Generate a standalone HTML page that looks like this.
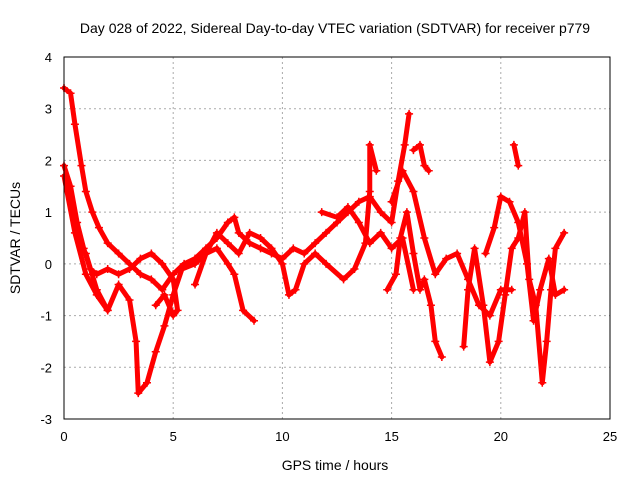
<!DOCTYPE html>
<html><head><meta charset="utf-8"><style>
body{margin:0;background:#fff}
svg{display:block;font-family:"Liberation Sans",sans-serif}
</style></head><body>
<svg id="chart" width="640" height="480">
<text x="335" y="33" text-anchor="middle" font-size="14">Day 028 of 2022, Sidereal Day-to-day VTEC variation (SDTVAR) for receiver p779</text>
<text x="335" y="470" text-anchor="middle" font-size="14">GPS time / hours</text>
<text transform="translate(20,238) rotate(-90)" text-anchor="middle" font-size="14">SDTVAR / TECUs</text>
<g id="grid"></g><g id="ticks"></g><g id="series"></g>
<rect x="64" y="57" width="546" height="362" fill="none" stroke="#000"/>
</svg>
<script>
const xTicks=[0,5,10,15,20,25];
const yTicks=[-3,-2,-1,0,1,2,3,4];
const trackA=[[0,3.4],[0.3,3.3],[0.5,2.7],[0.8,1.9],[1.0,1.4],[1.3,1.0],[1.6,0.7],[2.0,0.4],[2.5,0.2],[3.0,0.0],[3.5,-0.2],[4.0,-0.3],[4.5,-0.5],[5.0,-0.2],[5.5,0],[6.0,0.1],[6.5,0.3],[7.0,0.5],[7.5,0.8],[7.8,0.9],[8.0,0.6],[8.5,0.4],[9.0,0.3],[9.5,0.2],[10.0,0.1],[10.5,0.3],[11,0.2],[11.5,0.4],[12,0.6],[12.5,0.8],[13,1.0],[13.5,1.2],[14,1.3],[14.5,1.0],[15,0.8],[15.3,1.6],[15.6,2.3],[15.8,2.9]];
const trackB=[[0,1.9],[0.3,1.5],[0.6,0.8],[0.9,0.3],[1.2,-0.1],[1.5,-0.2],[2.0,-0.1],[2.5,-0.2],[3.0,-0.1],[3.5,0.1],[4.0,0.2],[4.5,0.0],[5.0,-0.3],[5.2,-0.9],[5.0,-1.0],[4.6,-0.6],[4.2,-0.8]];
const trackC=[[0,1.7],[0.5,0.6],[1.0,-0.2],[1.5,-0.6],[2.0,-0.9],[2.5,-0.4],[3.0,-0.7],[3.3,-1.5],[3.4,-2.5],[3.8,-2.3],[4.2,-1.7],[4.6,-1.2],[5.0,-0.6],[5.4,-0.1],[6,0.0],[6.5,0.2],[7,0.3],[7.5,0.0],[7.8,-0.2],[8.2,-0.9],[8.7,-1.1]];
const trackD=[[1,0.2],[1.5,-0.5],[2,-0.9]];
const trackE=[[6,-0.4],[6.5,0.2],[7,0.6],[7.5,0.4],[8,0.2],[8.5,0.6],[9,0.5],[9.5,0.3],[10,0.0],[10.3,-0.6],[10.6,-0.5],[11,0.0],[11.5,0.2],[12,0.0],[12.8,-0.3],[13.3,-0.1],[13.8,0.4],[14,1.4],[14,2.3],[14.3,1.8]];
const trackF=[[14.8,-0.5],[15.2,-0.2],[15.4,0.5],[15.7,1.0],[16,0.2],[16.3,-0.5],[16.5,-0.3],[16.8,-0.8],[17,-1.5],[17.3,-1.8]];
const trackG=[[15,1.2],[15.5,1.8],[16,1.4],[16.5,0.5],[17,-0.2],[17.5,0.1],[18,0.2],[18.5,-0.3],[19,-0.8],[19.5,-1.0],[20,-0.5],[20.5,-0.5]];
const trackH=[[16,2.2],[16.3,2.3],[16.5,1.9],[16.7,1.8]];
const trackI=[[18.3,-1.6],[18.5,-0.5],[18.8,0.3],[19.2,-0.8],[19.5,-1.9],[19.9,-1.5],[20.2,-0.6],[20.5,0.3],[20.8,0.5],[21.1,1.0],[21.3,-0.3],[21.6,-0.8],[21.9,-2.3],[22.1,-1.5],[22.3,-0.5],[22.5,0.3],[22.9,0.6]];
const trackJ=[[19.3,0.2],[19.7,0.7],[20,1.3],[20.4,1.2],[20.8,0.8],[21.2,0.0],[21.5,-1.1],[21.8,-0.5],[22.2,0.1],[22.5,-0.6],[22.9,-0.5]];
const trackK=[[20.6,2.3],[20.8,1.9]];
const trackL=[[11.8,1.0],[12.5,0.9],[13,1.1],[13.5,0.8],[14,0.4],[14.5,0.6],[15,0.3],[15.5,0.5],[16,-0.5]];
const tracks=[trackA,trackB,trackC,trackD,trackE,trackF,trackG,trackH,trackI,trackJ,trackK,trackL];
const X=v=>64+v/25*546, Y=v=>419-(v+3)/7*362;
const NS="http://www.w3.org/2000/svg";
const grid=document.getElementById('grid'),ticks=document.getElementById('ticks'),ser=document.getElementById('series');
function mk(tag,attrs,parent){const e=document.createElementNS(NS,tag);for(const k in attrs)e.setAttribute(k,attrs[k]);parent.appendChild(e);return e;}
xTicks.forEach(t=>{
 if(t>0&&t<25){const g=mk('line',{x1:X(t),x2:X(t),y1:57,y2:419,stroke:'#aaa','stroke-dasharray':'2,3'},grid);
 
 }
 const l=mk('text',{x:X(t),y:441,'text-anchor':'middle','font-size':13},ticks);l.textContent=t;
 
 
});
yTicks.forEach(t=>{
 if(t>-3&&t<4){const g=mk('line',{x1:64,x2:610,y1:Y(t),y2:Y(t),stroke:'#aaa','stroke-dasharray':'2,3'},grid);
 
 }
 const l=mk('text',{x:52,y:Y(t)+5,'text-anchor':'end','font-size':13},ticks);l.textContent=t;
 
 
});
tracks.forEach((tr,i)=>{
 const p=mk('polyline',{points:tr.map(d=>X(d[0])+','+Y(d[1])).join(' '),fill:'none',stroke:'#f00','stroke-width':5,'stroke-linejoin':'round','stroke-linecap':'round'},ser);
 
 
 tr.forEach(d=>{const x=X(d[0]),y=Y(d[1]);
  const m=mk('path',{d:`M${x-4},${y}h8M${x},${y-4}v8`,stroke:'#f00','stroke-width':1.5},ser);
  
  
 });
});
</script>
</body></html>
